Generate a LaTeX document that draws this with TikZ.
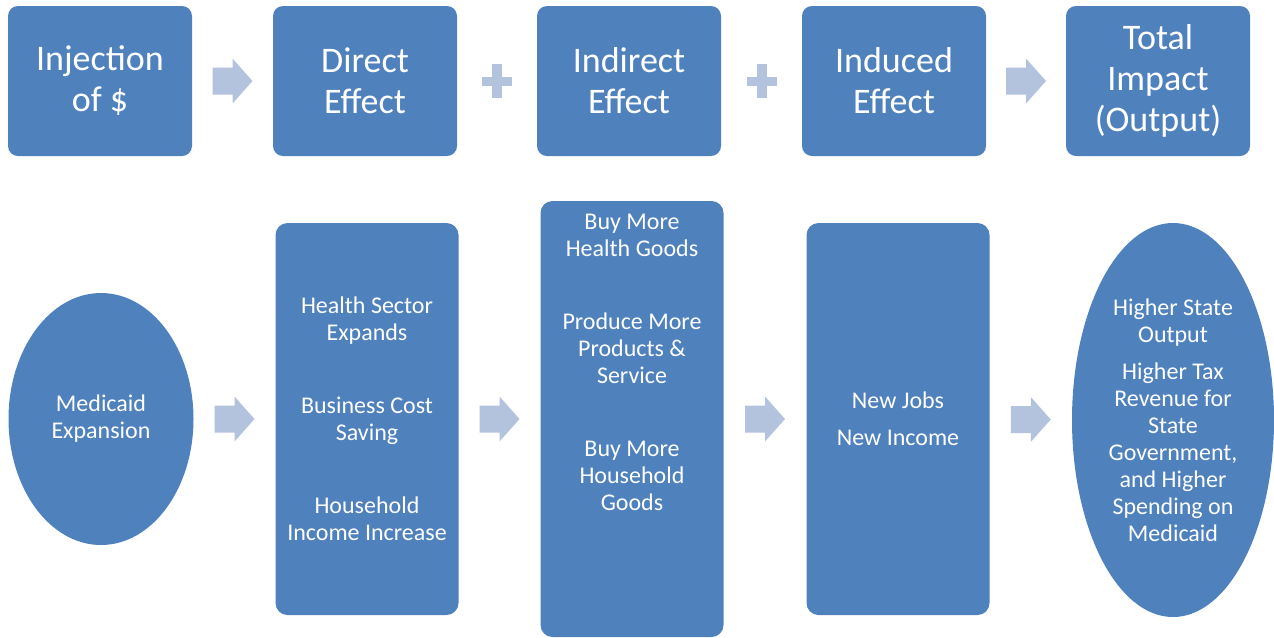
\documentclass[tikz,border=0pt]{standalone}
\usepackage{fontspec}
\setmainfont{Carlito}
\usetikzlibrary{shapes.geometric,calc}

\definecolor{boxblue}{HTML}{4F81BD}
\definecolor{arrowblue}{HTML}{B3C2DD}

\tikzset{
  stage/.style={fill=boxblue, rounded corners=7.5pt, minimum width=138pt, minimum height=112.5pt,
    inner sep=0pt, text=white, align=center, font=\fontsize{27}{30.75}\selectfont},
  column/.style={fill=boxblue, rounded corners=9pt, minimum width=137.25pt, minimum height=294pt, inner sep=0pt},
  bodytext/.style={text=white, align=center, font=\fontsize{18}{20.25}\selectfont},
  blob/.style={ellipse, fill=boxblue, inner sep=0pt, bodytext},
  fatarrow/.pic={\fill[arrowblue] (-20,-13.5) -- (0,-13.5) -- (0,-22.5) -- (20,0) -- (0,22.5) -- (0,13.5) -- (-20,13.5) -- cycle;},
  plussign/.pic={\fill[arrowblue] (-15,-4.5) rectangle (15,4.5);
    \fill[arrowblue] (-5,-17) rectangle (5,17);}
}

\begin{document}
\begin{tikzpicture}[x=0.75pt, y=-0.75pt]
  \useasboundingbox (0,0) rectangle (1274,637);

  % top row
  \node[stage] (inject) at (100,81) {Injection\\of \$};
  \node[stage] (direct) at (365,81) {Direct\\Effect};
  \node[stage] (indirect) at (629,81) {Indirect\\Effect};
  \node[stage] (induced) at (894,81) {Induced\\Effect};
  \node[stage] (total) at (1158,81) {Total\\Impact\\(Output)};

  \pic at ($(inject.east)!0.5!(direct.west)$) {fatarrow};
  \pic at ($(direct.east)!0.5!(indirect.west)$) {plussign};
  \pic at ($(indirect.east)!0.5!(induced.west)$) {plussign};
  \pic at ($(induced.east)!0.5!(total.west)$) {fatarrow};

  % bottom row
  \node[blob, minimum width=138.75pt, minimum height=189pt] (medicaid) at (101,419) {Medicaid\\Expansion};
  \node[column] (sector) at (367,419) {};
  \node[bodytext] (sectortxt) at (sector.center) {Health Sector\\Expands\\[34.5pt]Business Cost\\Saving\\[34.5pt]Household\\Income Increase};
  \node[column, minimum height=327pt] (goods) at (632,419) {};
  \node[bodytext] (goodstxt) at (632,362) {Buy More\\Health Goods\\[34.5pt]Produce More\\Products \&\\Service\\[34.5pt]Buy More\\Household\\Goods};
  \node[column] (jobs) at (898,419) {};
  \node[bodytext] (jobstxt) at (jobs.center) {New Jobs\\[7.5pt]New Income};
  \node[blob, minimum width=151.5pt, minimum height=295.5pt] (state) at (1173,420)
    {Higher State\\Output\\[7.5pt]Higher Tax\\Revenue for\\State\\Government,\\and Higher\\Spending on\\Medicaid};

  \pic at ($(medicaid.east)!0.5!(sector.west)$) {fatarrow};
  \pic at ($(sector.east)!0.5!(goods.west)$) {fatarrow};
  \pic at ($(goods.east)!0.5!(jobs.west)$) {fatarrow};
  \pic at ($(jobs.east)!0.5!(state.west)$) {fatarrow};
\end{tikzpicture}
\end{document}
